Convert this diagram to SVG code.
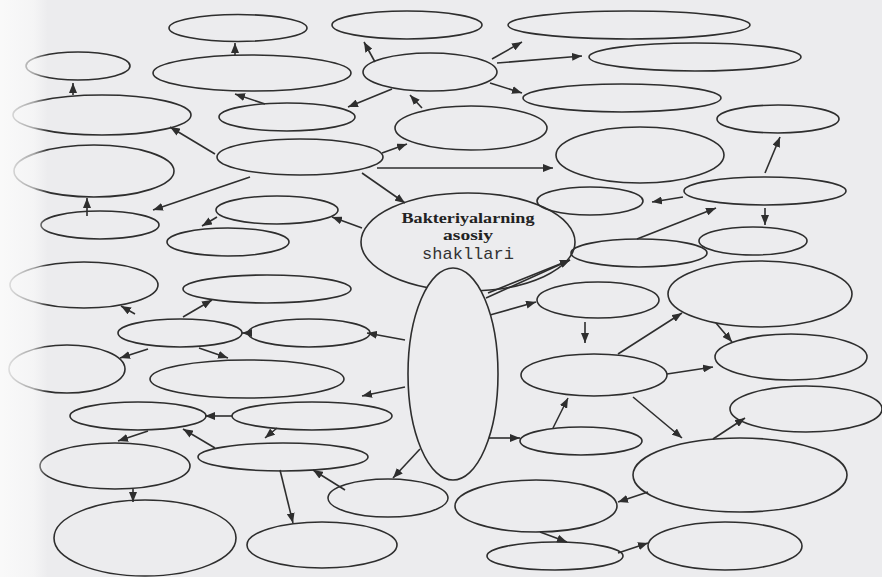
<svg xmlns="http://www.w3.org/2000/svg" width="882" height="577" viewBox="0 0 882 577">
<style>
.n{fill:none;stroke:#2e2e2e;stroke-width:1.6}
.c line,.c path{fill:none;stroke:#2e2e2e;stroke-width:1.6;marker-end:url(#ah)}
.t1{font-family:"Liberation Serif",serif;font-weight:bold;font-size:15px;fill:#222;text-anchor:middle}
.t2{font-family:"Liberation Mono",monospace;font-size:17px;fill:#333;text-anchor:middle}
</style>
<defs>
<marker id="ah" viewBox="0 0 10 8" refX="10" refY="4" markerWidth="10" markerHeight="8" markerUnits="userSpaceOnUse" orient="auto">
<path d="M0,0 L10,4 L0,8 z" fill="#2e2e2e"/>
</marker>
<linearGradient id="fade" x1="0" y1="0" x2="1" y2="0">
<stop offset="0" stop-color="#fafafa" stop-opacity="0.95"/>
<stop offset="0.7" stop-color="#fafafa" stop-opacity="0.6"/>
<stop offset="1" stop-color="#fafafa" stop-opacity="0"/>
</linearGradient>
</defs>
<rect width="882" height="577" fill="#ececee"/>
<g class="c" id="connectors">
<line x1="235" y1="55" x2="235" y2="43"/>
<line x1="73" y1="95" x2="73" y2="83"/>
<line x1="375" y1="62" x2="364" y2="42"/>
<line x1="492" y1="59" x2="522" y2="42"/>
<line x1="497" y1="63" x2="582" y2="56"/>
<line x1="490" y1="83" x2="522" y2="93"/>
<line x1="392" y1="89" x2="348" y2="107"/>
<line x1="265" y1="104" x2="235" y2="94"/>
<line x1="422" y1="108" x2="410" y2="95"/>
<line x1="215" y1="154" x2="170" y2="127"/>
<line x1="382" y1="153" x2="407" y2="144"/>
<line x1="377" y1="168" x2="553" y2="168"/>
<line x1="362" y1="173" x2="405" y2="203"/>
<line x1="250" y1="177" x2="153" y2="210"/>
<line x1="87" y1="216" x2="87" y2="198"/>
<line x1="362" y1="228" x2="332" y2="217"/>
<line x1="217" y1="217" x2="202" y2="226"/>
<line x1="765" y1="173" x2="780" y2="137"/>
<line x1="683" y1="197" x2="652" y2="202"/>
<line x1="765" y1="208" x2="765" y2="225"/>
<line x1="637" y1="239" x2="716" y2="208"/>
<line x1="488" y1="293" x2="570" y2="260"/>
<line x1="486" y1="298" x2="570" y2="260"/>
<line x1="490" y1="315" x2="536" y2="302"/>
<line x1="585" y1="322" x2="585" y2="343"/>
<line x1="618" y1="354" x2="682" y2="313"/>
<line x1="716" y1="323" x2="732" y2="342"/>
<line x1="667" y1="374" x2="713" y2="367"/>
<line x1="488" y1="438" x2="520" y2="438"/>
<line x1="553" y1="428" x2="568" y2="398"/>
<line x1="633" y1="397" x2="682" y2="438"/>
<line x1="713" y1="439" x2="745" y2="418"/>
<line x1="648" y1="492" x2="618" y2="502"/>
<line x1="540" y1="532" x2="567" y2="542"/>
<line x1="618" y1="553" x2="648" y2="543"/>
<line x1="405" y1="340" x2="367" y2="333"/>
<line x1="252" y1="333" x2="242" y2="333"/>
<line x1="183" y1="317" x2="212" y2="300"/>
<line x1="199" y1="348" x2="228" y2="358"/>
<line x1="148" y1="349" x2="120" y2="358"/>
<line x1="135" y1="314" x2="121" y2="306"/>
<line x1="405" y1="387" x2="362" y2="396"/>
<line x1="232" y1="416" x2="205" y2="416"/>
<line x1="148" y1="431" x2="118" y2="441"/>
<line x1="215" y1="448" x2="183" y2="429"/>
<line x1="277" y1="428" x2="265" y2="438"/>
<line x1="133" y1="489" x2="133" y2="502"/>
<line x1="280" y1="470" x2="293" y2="523"/>
<line x1="345" y1="490" x2="313" y2="470"/>
<line x1="420" y1="449" x2="393" y2="478"/>
</g>
<g id="n1"><ellipse class="n" cx="238" cy="28" rx="69" ry="13.5"/></g>
<g id="n2"><ellipse class="n" cx="78" cy="66" rx="52" ry="14"/></g>
<g id="n3"><ellipse class="n" cx="252" cy="73" rx="99" ry="18"/></g>
<g id="n4"><ellipse class="n" cx="407" cy="25" rx="75" ry="14"/></g>
<g id="n5"><ellipse class="n" cx="430" cy="72" rx="67" ry="19"/></g>
<g id="n6"><ellipse class="n" cx="102" cy="115" rx="89" ry="20"/></g>
<g id="n7"><ellipse class="n" cx="287" cy="117" rx="68" ry="14"/></g>
<g id="n8"><ellipse class="n" cx="471" cy="128" rx="76" ry="22"/></g>
<g id="n9"><ellipse class="n" cx="94" cy="171" rx="80" ry="26"/></g>
<g id="n10"><ellipse class="n" cx="300" cy="157" rx="83" ry="18"/></g>
<g id="n11"><ellipse class="n" cx="629" cy="25" rx="121" ry="14"/></g>
<g id="n12"><ellipse class="n" cx="695" cy="57" rx="106" ry="14"/></g>
<g id="n13"><ellipse class="n" cx="622" cy="98" rx="99" ry="14"/></g>
<g id="n14"><ellipse class="n" cx="778" cy="119" rx="61" ry="14"/></g>
<g id="n15"><ellipse class="n" cx="640" cy="155" rx="84" ry="28"/></g>
<g id="n16"><ellipse class="n" cx="765" cy="191" rx="81" ry="14"/></g>
<g id="n17"><ellipse class="n" cx="100" cy="225" rx="59" ry="14"/></g>
<g id="n18"><ellipse class="n" cx="277" cy="210" rx="61" ry="14"/></g>
<g id="n19"><ellipse class="n" cx="228" cy="242" rx="61" ry="14"/></g>
<g id="main">
<ellipse class="n" cx="468" cy="242" rx="107" ry="49"/>
<text class="t1" x="468" y="223" textLength="133" lengthAdjust="spacingAndGlyphs">Bakteriyalarning</text>
<text class="t1" x="468" y="240" textLength="50" lengthAdjust="spacingAndGlyphs">asosiy</text>
<text class="t2" x="468" y="259">shakllari</text>
</g>
<g id="n20"><ellipse class="n" cx="590" cy="201" rx="53" ry="14"/></g>
<g id="n21"><ellipse class="n" cx="753" cy="241" rx="54" ry="14"/></g>
<g id="n22"><ellipse class="n" cx="639" cy="253" rx="68" ry="14"/></g>
<g id="n23"><ellipse class="n" cx="453" cy="374" rx="45" ry="106" style="fill:#ececee"/></g>
<g id="n24"><ellipse class="n" cx="598" cy="300" rx="61" ry="18"/></g>
<g id="n25"><ellipse class="n" cx="760" cy="294" rx="92" ry="33"/></g>
<g id="n26"><ellipse class="n" cx="594" cy="375" rx="73" ry="21"/></g>
<g id="n27"><ellipse class="n" cx="791" cy="357" rx="76" ry="23"/></g>
<g id="n28"><ellipse class="n" cx="806" cy="409" rx="76" ry="23"/></g>
<g id="n29"><ellipse class="n" cx="581" cy="441" rx="61" ry="14"/></g>
<g id="n30"><ellipse class="n" cx="740" cy="475" rx="107" ry="37"/></g>
<g id="n31"><ellipse class="n" cx="536" cy="506" rx="81" ry="26"/></g>
<g id="n32"><ellipse class="n" cx="388" cy="498" rx="60" ry="19"/></g>
<g id="n33"><ellipse class="n" cx="555" cy="556" rx="68" ry="14"/></g>
<g id="n34"><ellipse class="n" cx="725" cy="546" rx="77" ry="24"/></g>
<g id="n35"><ellipse class="n" cx="267" cy="289" rx="84" ry="14"/></g>
<g id="n36"><ellipse class="n" cx="180" cy="333" rx="62" ry="14"/></g>
<g id="n37"><ellipse class="n" cx="309" cy="333" rx="61" ry="14"/></g>
<g id="n38"><ellipse class="n" cx="247" cy="379" rx="97" ry="19"/></g>
<g id="n39"><ellipse class="n" cx="67" cy="369" rx="58" ry="24"/></g>
<g id="n40"><ellipse class="n" cx="84" cy="285" rx="74" ry="23"/></g>
<g id="n41"><ellipse class="n" cx="138" cy="416" rx="68" ry="14"/></g>
<g id="n42"><ellipse class="n" cx="312" cy="416" rx="80" ry="14"/></g>
<g id="n43"><ellipse class="n" cx="115" cy="466" rx="75" ry="23"/></g>
<g id="n44"><ellipse class="n" cx="283" cy="457" rx="85" ry="14"/></g>
<g id="n45"><ellipse class="n" cx="145" cy="538" rx="91" ry="38"/></g>
<g id="n46"><ellipse class="n" cx="322" cy="545" rx="75" ry="23"/></g>
<rect x="0" y="0" width="48" height="577" fill="url(#fade)"/>
</svg>
